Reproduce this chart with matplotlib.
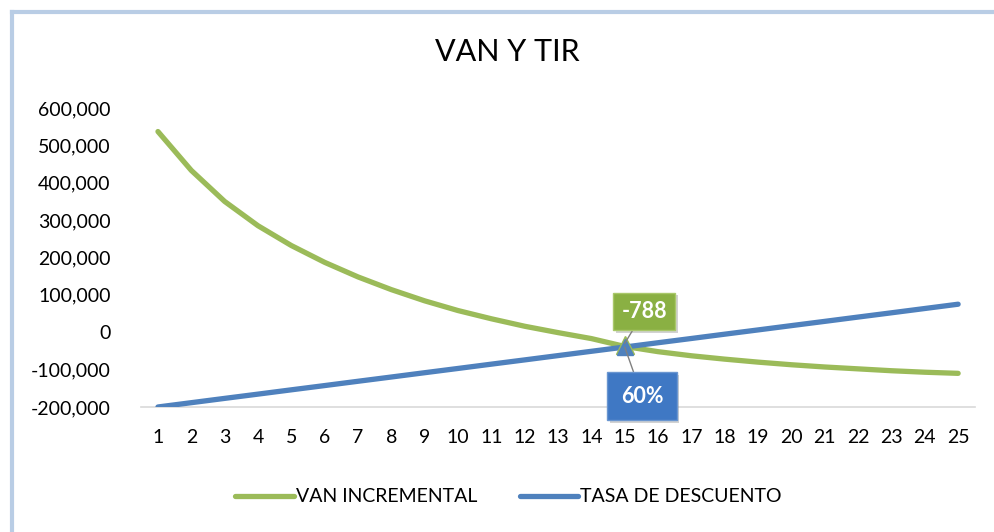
import numpy as np
import matplotlib.pyplot as plt
import matplotlib.patheffects as pe
from matplotlib.lines import Line2D
from matplotlib.ticker import FuncFormatter

plt.rcParams['font.family'] = ['Lato', 'DejaVu Sans']

periodos = list(range(1, 26))
van_incremental = [537000, 433000, 350000, 285000, 232000, 187000, 148000, 114000,
                   84000, 58000, 36000, 16000, -1000, -17000, -38000, -52000,
                   -63000, -72000, -80000, -87000, -93000, -98000, -103000,
                   -107000, -110000]
tasa_descuento = [-200000, -188500, -177000, -165600, -154100, -142700, -131200,
                  -119800, -108300, -96900, -85400, -74000, -62500, -51000,
                  -39600, -28100, -16700, -5200, 6200, 17700, 29100, 40600,
                  52000, 63500, 75000]
y_ticks = [-200000, -100000, 0, 100000, 200000, 300000, 400000, 500000, 600000]
punto = 15
etiqueta_van = '-788'
etiqueta_tasa = '60%'

verde = '#9BBB59'
azul = '#4F81BD'

fig = plt.figure(figsize=(9.95, 5.32), dpi=100)
ax = fig.add_axes([0.142, 0.235, 0.8377, 0.562])

ax.plot(periodos, van_incremental, color=verde, lw=3.8, solid_capstyle='round',
        solid_joinstyle='round', label='VAN INCREMENTAL', zorder=3)
ax.plot(periodos, tasa_descuento, color=azul, lw=3.8, solid_capstyle='round',
        solid_joinstyle='round', label='TASA DE DESCUENTO', zorder=4)

i = periodos.index(punto)
ax.plot(punto, van_incremental[i] + 4000, marker='^', ms=13, color=verde, mec=verde, zorder=5)
ax.plot(punto, tasa_descuento[i], marker='^', ms=12, color=azul, mec=azul, zorder=6)

ax.set_xlim(0.5, 25.5)
ax.set_ylim(-200000, 600000)
ax.set_xticks(periodos)
ax.set_yticks(y_ticks)
ax.yaxis.set_major_formatter(FuncFormatter(lambda v, p: '{:,.0f}'.format(v)))
ax.tick_params(length=0, labelsize=14, colors='black')
ax.tick_params(axis='y', pad=22)
ax.tick_params(axis='x', pad=16)
for s in ['top', 'right', 'left']:
    ax.spines[s].set_visible(False)
ax.spines['bottom'].set_color('#D9D9D9')
ax.spines['bottom'].set_linewidth(1.2)

# etiquetas de datos
sombra = [pe.SimplePatchShadow(offset=(2, -2), shadow_rgbFace='gray', alpha=0.35), pe.Normal()]
a1 = ax.annotate(etiqueta_van, xy=(punto, van_incremental[i] + 8000), xytext=(15.58, 56000),
                 ha='center', va='center', fontsize=15.5, fontweight='bold', color='white',
                 bbox=dict(boxstyle='square,pad=0.38', fc='#8AB043', ec='#A9C86A', lw=1),
                 arrowprops=dict(arrowstyle='-', color='#808080', lw=1, shrinkA=0, shrinkB=0),
                 zorder=7)
a2 = ax.annotate(etiqueta_tasa, xy=(punto, tasa_descuento[i]), xytext=(15.52, -171000),
                 ha='center', va='center', fontsize=15.5, fontweight='bold', color='white',
                 bbox=dict(boxstyle='square,pad=0.62', fc='#3F78C4', ec='#6A96D0', lw=1),
                 arrowprops=dict(arrowstyle='-', color='#808080', lw=1, shrinkA=0, shrinkB=0),
                 zorder=7)
a1.get_bbox_patch().set_path_effects(sombra)
a2.get_bbox_patch().set_path_effects(sombra)

fig.text(0.51, 0.902, 'VAN Y TIR', ha='center', va='center', fontsize=22, color='black')

ax.legend(loc='center', bbox_to_anchor=(0.511, 0.066), bbox_transform=fig.transFigure,
          ncol=2, frameon=False, fontsize=14, handlelength=3.0, handletextpad=0.1,
          columnspacing=2.2)

# borde del area del grafico
borde = '#B9CDE5'
fig.add_artist(Line2D([12 / 995, 12 / 995], [0, 1 - 12 / 532], color=borde, lw=3,
                      transform=fig.transFigure))
fig.add_artist(Line2D([12 / 995, 1], [1 - 12 / 532, 1 - 12 / 532], color=borde, lw=3,
                      transform=fig.transFigure))

fig.savefig('out.png', dpi=100)
